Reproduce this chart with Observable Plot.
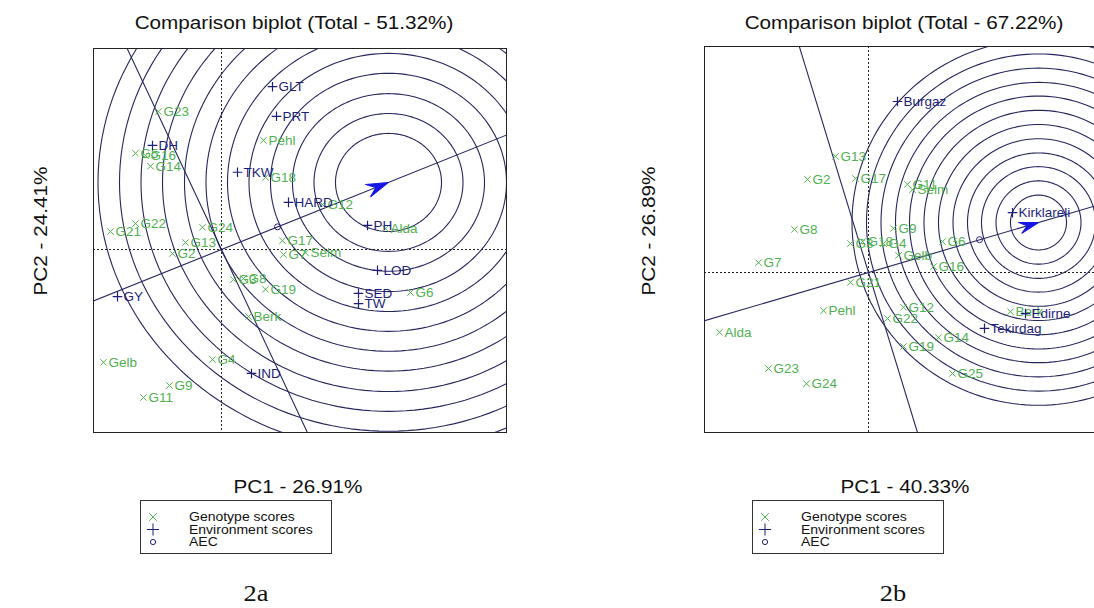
<!DOCTYPE html>
<html><head><meta charset="utf-8">
<script src="https://cdn.jsdelivr.net/npm/d3@7"></script>
<script src="https://cdn.jsdelivr.net/npm/@observablehq/plot@0.6"></script>
<style>
html,body{margin:0;padding:0;background:#fff;overflow:hidden;}
#root{position:relative;width:1094px;height:608px;overflow:hidden;background:#fff;}
#root svg{position:absolute;}
</style></head><body><div id="root"></div>
<script>
// ---------- Panel 2a ----------
const genoA_names = ["G23","Pehl","G5","G16","G14","G18","G12","G21","G22","G24","G13","G2","Alda","G17","G7","Selm","G3","G8","G19","G6","Berk","Gelb","G4","G9","G11"];
const genoA_pc1   = [-1.26, 0.84,-1.72,-1.52,-1.42, 0.88, 2.02,-2.22,-1.72,-0.38,-0.72,-0.98, 3.28, 1.22, 1.24, 1.68, 0.24, 0.44, 0.88, 3.78, 0.54,-2.36,-0.18,-1.04,-1.56];
const genoA_pc2   = [ 2.98, 2.36, 2.08, 2.03, 1.80, 1.56, 0.97, 0.39, 0.56, 0.48, 0.15,-0.09, 0.45, 0.19,-0.11,-0.07,-0.65,-0.63,-0.86,-0.93,-1.45,-2.44,-2.38,-2.94,-3.20];
const envA_names  = ["GLT","PRT","DH","TKW","HARD","PH","LOD","SED","TW","GY","IND"];
const envA_pc1    = [ 1.02, 1.10,-1.38, 0.32, 1.34, 2.92, 3.12, 2.74, 2.74,-2.08, 0.60];
const envA_pc2    = [ 3.52, 2.88, 2.25, 1.67, 1.02, 0.52,-0.45,-0.95,-1.17,-1.02,-2.68];
const aecA   = [1.12, 0.49];
const idealA = [3.34, 1.45];
const ringsA = [1.06,1.49,1.92,2.36,2.79,3.22,3.65,4.08,4.52,4.95,5.38,5.81];
const titleA = "Comparison biplot (Total - 51.32%)";
const xLabA = "PC1 - 26.91%", yLabA = "PC2 - 24.41%";

// ---------- Panel 2b ----------
const genoB_names = ["G13","G2","G17","G11","Selm","G8","G9","G3","G18","G4","G6","Gelb","G16","G7","G21","Pehl","Alda","G12","G22","Berk","G14","G19","G25","G23","G24"];
const genoB_pc1   = [-0.66,-1.22,-0.26, 0.78, 0.88,-1.48, 0.50,-0.36,-0.12, 0.30, 1.48, 0.60, 1.30,-2.20,-0.36,-0.90,-2.98, 0.70, 0.38, 2.84, 1.40, 0.70, 1.68,-2.00,-1.24];
const genoB_pc2   = [ 2.37, 1.90, 1.92, 1.80, 1.69, 0.88, 0.90, 0.59, 0.63, 0.59, 0.63, 0.35, 0.12, 0.20,-0.20,-0.78,-1.22,-0.71,-0.94,-0.80,-1.33,-1.51,-2.06,-1.96,-2.27];
const envB_names  = ["Burgaz","Kirklareli","Edirne","Tekirdag"];
const envB_pc1    = [0.58, 2.88, 3.14, 2.32];
const envB_pc2    = [3.49, 1.22,-0.84,-1.14];
const aecB   = [2.22, 0.67];
const idealB = [3.40, 1.02];
const ringsB = [0.56,0.85,1.14,1.42,1.71,2.00,2.29,2.58,2.86,3.15,3.44,3.73];
const titleB = "Comparison biplot (Total - 67.22%)";
const xLabB = "PC1 - 40.33%", yLabB = "PC2 - 26.89%";

const legendItems = ["Genotype scores","Environment scores","AEC"];

// ---------- styles ----------
const GREEN = "#50b050", NAVY = "#1e1e78", LINE = "#26265e", BLUE = "#1515e6";
const FONT = "Liberation Sans, Arial, sans-serif";

const rows = (names, xs, ys) => names.map((n, i) => ({name: n, x: xs[i], y: ys[i]}));

const arrowShape = {
  draw(ctx, l) {
    const w = l * 0.3;
    ctx.moveTo(0, -l);
    ctx.lineTo(w, 0);
    ctx.lineTo(0, -l * 0.38);
    ctx.lineTo(-w, 0);
    ctx.closePath();
  }
};

function panel(o) {
  const W = o.box[2] - o.box[0], H = o.box[3] - o.box[1], m = 2;
  const sx = W / (o.xDomain[1] - o.xDomain[0]);
  const sy = H / (o.yDomain[1] - o.yDomain[0]);
  const [ix, iy] = o.ideal;
  const ringPts = o.rings.flatMap(r => d3.range(0, 361, 2).map(a => ({
    r, x: ix + r * Math.cos(a * Math.PI / 180), y: iy + r * Math.sin(a * Math.PI / 180)
  })));
  const axisLine = [[-20 * ix, -20 * iy], [20 * ix, 20 * iy]];
  const perpLine = [[20 * iy, -20 * ix], [-20 * iy, 20 * ix]];
  const angle = Math.atan2(ix * sx, iy * sy) * 180 / Math.PI;
  const svg = Plot.plot({
    width: W + 2 * m, height: H + 2 * m, margin: m,
    x: {domain: o.xDomain, axis: null},
    y: {domain: o.yDomain, axis: null},
    style: {background: "transparent", fontFamily: FONT},
    marks: [
      Plot.line(ringPts, {x: "x", y: "y", z: "r", stroke: LINE, strokeWidth: 1.1, clip: true}),
      Plot.ruleX([0], {stroke: "#222", strokeWidth: 1, strokeDasharray: "2,2"}),
      Plot.ruleY([0], {stroke: "#222", strokeWidth: 1, strokeDasharray: "2,2"}),
      Plot.line(axisLine, {x: d => d[0], y: d => d[1], stroke: LINE, strokeWidth: 1.1, clip: true}),
      Plot.line(perpLine, {x: d => d[0], y: d => d[1], stroke: LINE, strokeWidth: 1.1, clip: true}),
      Plot.dot([o.aec], {x: d => d[0], y: d => d[1], r: 3, stroke: NAVY, fill: "none", strokeWidth: 1}),
      Plot.vector([o.ideal], {x: d => d[0], y: d => d[1], rotate: angle, length: o.head, anchor: "end",
        shape: arrowShape, fill: BLUE, stroke: BLUE, strokeWidth: 1}),
      Plot.dot(o.geno, {x: "x", y: "y", symbol: "times", r: 3, stroke: GREEN, strokeWidth: 1}),
      Plot.text(o.geno, {x: "x", y: "y", text: "name", dx: 5, textAnchor: "start", fill: GREEN, fontSize: 13.5}),
      Plot.dot(o.env, {x: "x", y: "y", symbol: "plus", r: 3.2, stroke: NAVY, strokeWidth: 1.2}),
      Plot.text(o.env, {x: "x", y: "y", text: "name", dx: 6, textAnchor: "start", fill: NAVY, fontSize: 13.5}),
      Plot.frame({stroke: "#222", strokeWidth: 1})
    ]
  });
  svg.style.left = (o.box[0] - m) + "px";
  svg.style.top = (o.box[1] - m) + "px";
  return svg;
}

const root = document.getElementById("root");
root.appendChild(panel({
  box: [93, 48, 506, 432], xDomain: [-2.56, 5.70], yDomain: [-3.957, 4.346],
  geno: rows(genoA_names, genoA_pc1, genoA_pc2), env: rows(envA_names, envA_pc1, envA_pc2),
  aec: aecA, ideal: idealA, rings: ringsA, head: 22
}));
root.appendChild(panel({
  box: [704, 46, 1116, 432], xDomain: [-3.28, 4.96], yDomain: [-3.265, 4.612],
  geno: rows(genoB_names, genoB_pc1, genoB_pc2), env: rows(envB_names, envB_pc1, envB_pc2),
  aec: aecB, ideal: idealB, rings: ringsB, head: 19
}));

// ---------- overlay: titles, axis labels, legends, captions ----------
const ov = d3.create("svg").attr("width", 1094).attr("height", 608).style("left", "0px").style("top", "0px");
function txt(x, y, s, size, opts = {}) {
  return ov.append("text")
    .attr("transform", `translate(${x},${y})${opts.rot ? " rotate(-90)" : ""} scale(${opts.sx || 1.12},1)`)
    .attr("text-anchor", opts.anchor || "middle")
    .attr("font-family", opts.family || FONT)
    .attr("font-size", size)
    .attr("fill", opts.fill || "#111")
    .text(s);
}
const panels = [
  {title: titleA, xl: xLabA, yl: yLabA, cx: 294, xc: 298, ylx: 47, dx: 0, cap: "2a", capx: 256},
  {title: titleB, xl: xLabB, yl: yLabB, cx: 904, xc: 905, ylx: 655, dx: 612, cap: "2b", capx: 893}
];
panels.forEach(p => {
  txt(p.cx, 29, p.title, 18.5);
  txt(p.xc, 493, p.xl, 18.5);
  txt(p.ylx, 231, p.yl, 18.5, {rot: true});
  txt(p.capx, 601, p.cap, 24, {family: "Liberation Serif, Times New Roman, serif", sx: 1.1});
  const lx = 140 + p.dx;
  ov.append("rect").attr("x", lx + 0.5).attr("y", 500.5).attr("width", 191).attr("height", 53)
    .attr("fill", "none").attr("stroke", "#333").attr("stroke-width", 1);
  const symX = lx + 13;
  ov.append("path").attr("d", d3.symbol(d3.symbolTimes, 40)()).attr("transform", `translate(${symX},517)`)
    .attr("fill", "none").attr("stroke", GREEN).attr("stroke-width", 1);
  ov.append("path").attr("d", d3.symbol(d3.symbolPlus, 50)()).attr("transform", `translate(${symX},529.5)`)
    .attr("fill", "none").attr("stroke", NAVY).attr("stroke-width", 1);
  ov.append("circle").attr("cx", symX).attr("cy", 542).attr("r", 2.6)
    .attr("fill", "none").attr("stroke", NAVY).attr("stroke-width", 1);
  const ys = [521, 533.5, 546];
  legendItems.forEach((s, i) => txt(lx + 49, ys[i], s, 12.5, {anchor: "start"}));
});
root.appendChild(ov.node());
</script></body></html>
